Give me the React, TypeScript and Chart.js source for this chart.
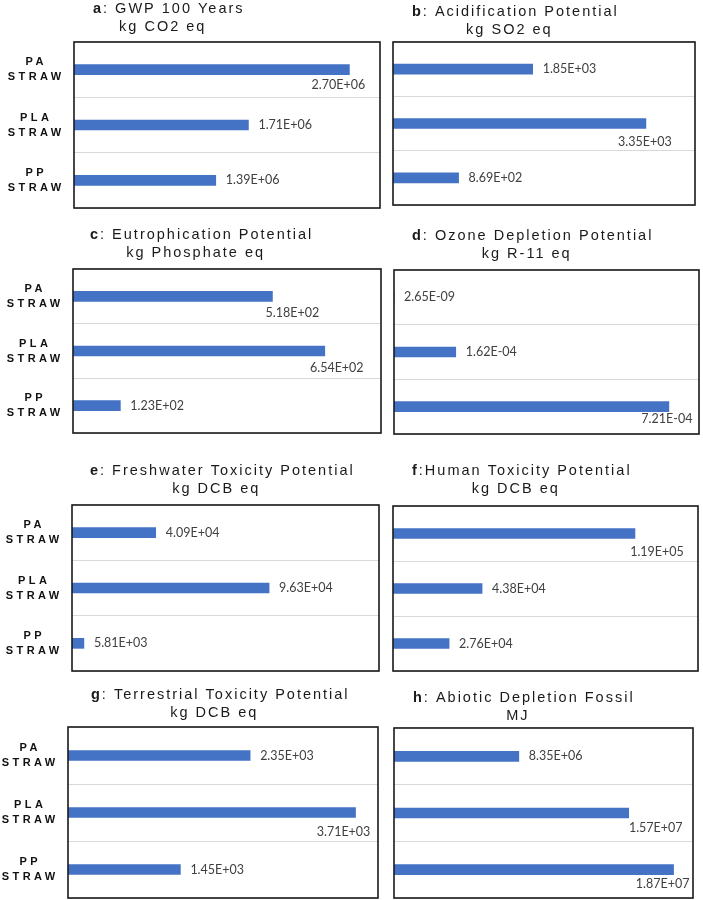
import React, { useEffect, useRef } from 'react';
import { Chart, registerables } from 'chart.js';

Chart.register(...registerables);

// ---------- data ----------
const categories: string[][] = [['PA', 'STRAW'], ['PLA', 'STRAW'], ['PP', 'STRAW']];

const gwpValues = [2.70e6, 1.71e6, 1.39e6];
const acidificationValues = [1.85e3, 3.35e3, 8.69e2];
const eutrophicationValues = [5.18e2, 6.54e2, 1.23e2];
const ozoneValues = [2.65e-9, 1.62e-4, 7.21e-4];
const freshwaterValues = [4.09e4, 9.63e4, 5.81e3];
const humanValues = [1.19e5, 4.38e4, 2.76e4];
const terrestrialValues = [2.35e3, 3.71e3, 1.45e3];
const abioticValues = [8.35e6, 1.57e7, 1.87e7];

const panelValues = [
  gwpValues, acidificationValues, eutrophicationValues, ozoneValues,
  freshwaterValues, humanValues, terrestrialValues, abioticValues,
];
const axisMax = [3e6, 4e3, 800, 8e-4, 1.5e5, 1.5e5, 4e3, 2e7];
const panelLetters = ['a', 'b', 'c', 'd', 'e', 'f', 'g', 'h'];
const titleMain = [
  ': GWP 100 Years',
  ': Acidification Potential',
  ': Eutrophication Potential',
  ': Ozone Depletion Potential',
  ': Freshwater Toxicity Potential',
  ':Human Toxicity Potential',
  ': Terrestrial Toxicity Potential',
  ': Abiotic Depletion Fossil',
];
const titleUnit = [
  'kg CO2 eq', 'kg SO2 eq', 'kg Phosphate eq', 'kg R-11 eq',
  'kg DCB eq', 'kg DCB eq', 'kg DCB eq', 'MJ',
];

// ---------- layout / style ----------
type LabelPos = { pos: 'r' } | { pos: 'b'; dx: number; dy: number };
const R: LabelPos = { pos: 'r' };
const panelLayout = [
  { box: [74, 42, 380, 208], titleLeft: 93, titleDy: -29, labels: [{ pos: 'b', dx: -11, dy: 15 }, R, R] },
  { box: [393, 42, 695, 205], titleLeft: 412, titleDy: -26, labels: [R, { pos: 'b', dx: -1, dy: 18 }, R] },
  { box: [73, 269, 381, 433], titleLeft: 90, titleDy: -30, labels: [{ pos: 'b', dx: 20, dy: 17 }, { pos: 'b', dx: 12, dy: 17 }, R] },
  { box: [394, 270, 699, 434], titleLeft: 412, titleDy: -30, labels: [R, R, { pos: 'b', dx: -2, dy: 12 }] },
  { box: [72, 505, 379, 671], titleLeft: 90, titleDy: -30, labels: [R, R, R] },
  { box: [393, 506, 698, 671], titleLeft: 412, titleDy: -31, labels: [{ pos: 'b', dx: 22, dy: 18 }, R, R] },
  { box: [68, 727, 378, 898], titleLeft: 91, titleDy: -28, labels: [R, { pos: 'b', dx: -12, dy: 19 }, R] },
  { box: [394, 728, 693, 898], titleLeft: 413, titleDy: -26, labels: [R, { pos: 'b', dx: 27, dy: 15 }, { pos: 'b', dx: -11, dy: 14 }] },
] as { box: number[]; titleLeft: number; titleDy: number; labels: LabelPos[] }[];

const BAR_COLOR = '#4472C4';
const TITLE_FONT = '"Liberation Sans", Arial, sans-serif';
const LABEL_FONT = '12.5px Lato, "Open Sans", sans-serif';

function sci(v: number): string {
  const [m, e] = v.toExponential(2).split('e');
  const sign = e[0] === '-' ? '-' : '+';
  const digits = e.replace(/[+-]/, '').padStart(2, '0');
  return `${m}E${sign}${digits}`;
}

function Panel({ index }: { index: number }) {
  const ref = useRef<HTMLCanvasElement | null>(null);
  const lay = panelLayout[index];
  const leftCol = index % 2 === 0;
  const canvasLeft = leftCol ? 0 : 385;
  const canvasWidth = leftCol ? 385 : 318;
  const [bl, bt, br, bb] = lay.box;
  const canvasTop = bt - 42;
  const canvasHeight = bb + 2 - canvasTop;

  useEffect(() => {
    const canvas = ref.current!;
    const values = panelValues[index];

    const panelPlugin = {
      id: 'panelDeco' + index,
      beforeDraw(chart: any) {
        chart.ctx.letterSpacing = '3.4px';
      },
      afterDatasetsDraw(chart: any) {
        const ctx = chart.ctx;
        const meta = chart.getDatasetMeta(0);
        ctx.save();
        ctx.letterSpacing = '0px';
        ctx.font = LABEL_FONT;
        ctx.fillStyle = '#404040';
        meta.data.forEach((el: any, i: number) => {
          const text = sci(values[i]);
          const lp = lay.labels[i];
          ctx.textBaseline = 'middle';
          if (lp.pos === 'r') {
            ctx.textAlign = 'left';
            ctx.fillText(text, el.x + 10, el.y);
          } else {
            ctx.textAlign = 'center';
            ctx.fillText(text, el.x + lp.dx, el.y + lp.dy);
          }
        });
        ctx.restore();
      },
      afterDraw(chart: any) {
        const ctx = chart.ctx;
        ctx.letterSpacing = '0px';
        const ca = chart.chartArea;
        ctx.save();
        ctx.strokeStyle = '#1a1a1a';
        ctx.lineWidth = 1.6;
        ctx.strokeRect(ca.left, ca.top, ca.right - ca.left, ca.bottom - ca.top);
        ctx.restore();

        ctx.save();
        ctx.letterSpacing = '2px';
        ctx.fillStyle = '#1a1a1a';
        ctx.textBaseline = 'alphabetic';
        ctx.textAlign = 'left';
        const boldF = `bold 14.5px ${TITLE_FONT}`;
        const normF = `14.5px ${TITLE_FONT}`;
        const letter = panelLetters[index];
        const main = titleMain[index];
        ctx.font = boldF;
        const w1 = ctx.measureText(letter).width;
        ctx.font = normF;
        const w2 = ctx.measureText(main).width;
        const x0 = lay.titleLeft - canvasLeft;
        const y1 = ca.top + lay.titleDy;
        ctx.font = boldF;
        ctx.fillText(letter, x0, y1);
        ctx.font = normF;
        ctx.fillText(main, x0 + w1, y1);
        ctx.textAlign = 'center';
        ctx.fillText(titleUnit[index], x0 + (w1 + w2) / 2 - 6, y1 + 17.5);
        ctx.restore();
      },
    };

    const chart = new Chart(canvas, {
      type: 'bar',
      data: {
        labels: categories,
        datasets: [{
          data: values,
          backgroundColor: BAR_COLOR,
          borderWidth: 0,
          barThickness: 10,
        }],
      },
      options: {
        indexAxis: 'y',
        responsive: false,
        animation: false,
        events: [],
        layout: {
          padding: {
            left: 0,
            top: bt - canvasTop,
            right: canvasLeft + canvasWidth - br,
            bottom: canvasTop + canvasHeight - bb,
          },
        },
        plugins: {
          legend: { display: false },
          tooltip: { enabled: false },
          title: { display: false },
        },
        scales: {
          x: { display: false, min: 0, max: axisMax[index] },
          y: {
            grid: { color: '#d9d9d9', lineWidth: 1, drawTicks: false, offset: true },
            border: { display: false },
            ticks: {
              display: leftCol,
              crossAlign: 'center',
              padding: 18,
              color: '#111111',
              font: { family: TITLE_FONT, size: 11, weight: 'bold', lineHeight: 1.36 },
            },
            afterFit: (s: any) => {
              s.width = bl - canvasLeft;
              s.paddingTop = 0;
              s.paddingBottom = 0;
            },
          },
        },
      },
      plugins: [panelPlugin],
    } as any);
    return () => chart.destroy();
  }, [index]);

  return (
    <canvas
      ref={ref}
      width={canvasWidth}
      height={canvasHeight}
      style={{ position: 'absolute', left: canvasLeft, top: canvasTop, width: canvasWidth, height: canvasHeight, display: 'block' }}
    />
  );
}

export default function App() {
  return (
    <div style={{ position: 'absolute', left: 0, top: 0, width: 703, height: 900, background: '#ffffff', overflow: 'hidden' }}>
      {panelValues.map((_, i) => <Panel key={i} index={i} />)}
    </div>
  );
}
